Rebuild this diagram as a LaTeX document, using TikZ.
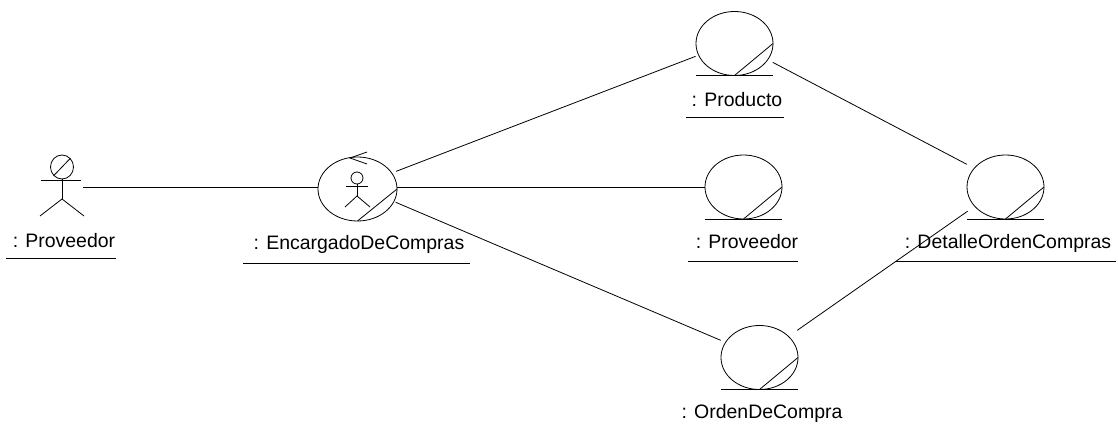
\documentclass[tikz,border=0pt]{standalone}
\usepackage{fontspec}
\setmainfont{Liberation Sans}
\usetikzlibrary{shapes.geometric, calc}
\tikzset{
    thing/.style={draw, shape=ellipse, inner sep=0pt, outer sep=0pt, minimum width=77*0.75pt, minimum height=64*0.75pt},
    caption/.style={inner sep=0pt, font=\fontsize{14.6pt}{16pt}\selectfont},
    link/.style 2 args={shorten <=#1, shorten >=#2},
}

\begin{document}
\begin{tikzpicture}[x=0.75pt, y=-0.75pt, line width=0.6pt]
    \useasboundingbox (0,0) rectangle (1118,428);
    % boxes with their bottom line and corner cut
    \foreach \n/\x/\y in {prod/734.5/43.5, prov/743.5/187, det/1005.5/187, ord/759.5/357.5} {
        \node[thing] (\n) at (\x,\y) {};
        \draw (\n.west |- \n.south) -- (\n.east |- \n.south);
        \draw (\n.south) -- (\n.east);
    };
    % worker circle
    \node[thing, minimum width=79*0.75pt] (enc) at (357.5,189) {};
    \draw (enc.south) -- (enc.east);
    \draw (367,152) -- (350,158) -- (367,164);
    \draw (357,178) circle (6);
    \draw (346,186) -- (368,186);
    \draw (357,184) -- (357,196);
    \draw (345,207) -- (357,196) -- (370,207);
    % outside person
    \node[draw, shape=ellipse, inner sep=0pt, minimum width=23*0.75pt, minimum height=24*0.75pt] (head) at (62,167) {};
    \draw (head.south west) -- (head.north east);
    \draw (41,180) -- (81,180);
    \draw (head.south) -- (62,199);
    \draw (40,216) -- (62,199) -- (84,216);
    \coordinate (hand) at (83,187);
    % texts and underlines
    \foreach \n/\x/\y/\txt/\a/\b/\u in {lpers/64/241/Proveedor/6/116/258, lenc/359/244/EncargadoDeCompras/243/470/263, lprod/737/100/Producto/686/784/117, lprov/747/242/Proveedor/688/798/261, ldet/1008/243/DetalleOrdenCompras/895/1116/261} {
        \node[caption] (\n) at (\x,\y) {: \txt};
        \draw (\a,\u) -- (\b,\u);
    };
    \node[caption] (lord) at (762,413) {: OrdenDeCompra};
    % connectors
    \draw (hand) -- (hand -| enc.west);
    \draw (enc.east |- prov.center) -- (prov.west);
    \draw[link={3.5pt}{2.5pt}] (enc.25) -- (prod.198);
    \draw[link={1.5pt}{3.9pt}] (enc.-19) -- (ord.156);
    \draw[link={4.3pt}{6.3pt}] (prod.-26) -- (det.149);
    \draw[link={6.5pt}{8pt}] (det.-148) -- (ord.36);
\end{tikzpicture}
\end{document}
